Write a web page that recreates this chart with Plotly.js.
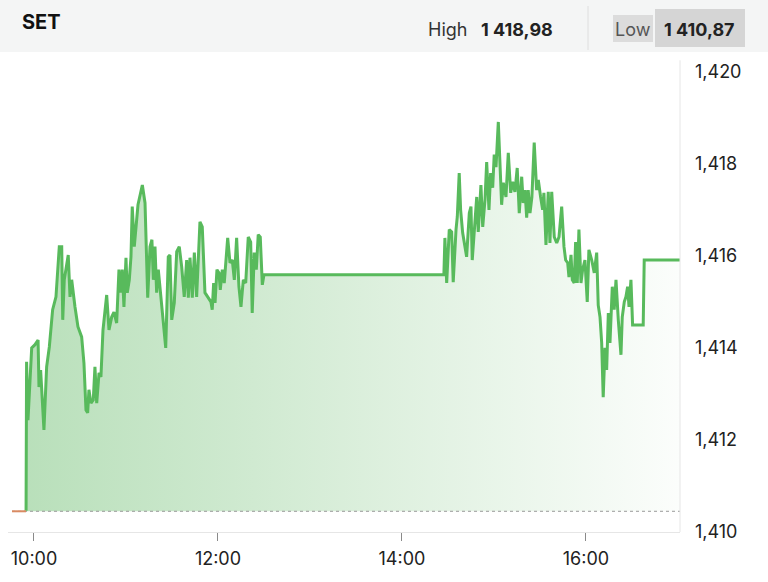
<!DOCTYPE html>
<html>
<head>
<meta charset="utf-8">
<script src="https://cdn.plot.ly/plotly-3.0.1.min.js"></script>
<style>
  html, body { margin: 0; padding: 0; background: #ffffff; }
  #chart { width: 768px; height: 582px; }
</style>
</head>
<body>
<div id="chart"></div>
<script>
// ---------------- data ----------------
const indexName = "SET";
const highLabel = "High";
const highValue = "1 418,98";
const lowLabel = "Low";
const lowValue = "1 410,87";

const prevClose = 1410.45;
const preOpenTimes = ["09:45:40", "09:54:50"];
const preOpenValues = [1410.45, 1410.45];

const times = [
  "09:54:50","09:55:10","09:56:05","09:58:30","10:00:40","10:02:40","10:03:15","10:04:20","10:06:30","10:08:15",
  "10:10:00","10:12:10","10:14:20","10:16:30","10:18:05","10:18:45","10:19:45","10:22:20","10:23:30","10:24:35",
  "10:26:45","10:28:40","10:31:05","10:32:35","10:33:55","10:35:00","10:35:50","10:37:10","10:38:40","10:39:45",
  "10:40:55","10:42:25","10:43:40","10:45:00","10:47:25","10:48:55","10:50:40","10:52:10","10:53:55","10:55:25",
  "10:56:35","10:57:35","10:58:40","11:00:00","11:00:50","11:02:10","11:03:15","11:04:05","11:05:25","11:06:30",
  "11:07:50","11:10:40","11:12:25","11:14:10","11:15:40","11:16:55","11:17:50","11:18:55","11:20:00","11:21:05",
  "11:22:50","11:24:20","11:25:55","11:27:35","11:28:40","11:29:50","11:31:30","11:33:05","11:34:45","11:36:20",
  "11:38:00","11:39:35","11:40:40","11:41:45","11:43:15","11:44:35","11:46:05","11:48:15","11:49:45","11:51:30",
  "11:53:15","11:55:25","11:56:15","11:57:10","11:58:05","11:59:20","12:00:40","12:01:30","12:02:50","12:04:05",
  "12:06:20","12:07:50","12:09:20","12:10:40","12:12:10","12:13:40","12:15:00","12:16:30","12:18:05","12:19:45",
  "12:21:20","12:22:20","12:23:40","12:25:00","12:26:15","12:27:35","12:28:55","12:29:30","12:30:00",
  "14:27:20","14:28:00","14:29:10","14:30:50","14:32:25","14:33:25","14:35:15","14:36:05","14:37:20","14:38:15",
  "14:39:35","14:41:05","14:42:10","14:43:55","14:45:00","14:45:50","14:47:35","14:48:45","14:49:45","14:51:30",
  "14:52:40","14:54:10","14:55:15","14:56:45","14:57:50","14:59:10","15:00:10","15:01:20","15:02:50","15:03:55",
  "15:05:00","15:06:05","15:07:50","15:09:20","15:10:55","15:12:10","15:13:40","15:15:10","15:16:30","15:18:05",
  "15:19:05","15:20:15","15:21:20","15:22:20","15:23:30","15:24:45","15:26:15","15:27:50","15:28:55","15:30:25",
  "15:31:45","15:32:35","15:33:55","15:35:25","15:36:30","15:37:40","15:39:20","15:40:55","15:42:25","15:44:10",
  "15:45:40","15:46:45","15:48:05","15:48:55","15:50:15","15:51:05","15:52:20","15:53:15","15:54:20","15:55:25",
  "15:56:45","15:57:50","15:59:20","16:00:50","16:01:55","16:03:45","16:05:25","16:07:00","16:08:00","16:09:10",
  "16:10:15","16:11:15","16:12:25","16:13:30","16:14:35","16:15:40","16:17:10","16:18:25","16:19:35","16:21:05",
  "16:22:50","16:23:40","16:25:00","16:26:05","16:27:10","16:28:05","16:29:20","16:30:25","16:37:20","16:38:00",
  "17:01:20"
];

const values = [
  1410.46,1413.70,1412.43,1414.00,1414.07,1414.17,1413.15,1413.52,1412.22,1413.59,
  1414.02,1414.83,1415.11,1416.20,1416.20,1414.61,1415.48,1416.02,1415.11,1415.48,
  1414.89,1414.46,1414.24,1413.67,1412.65,1412.59,1413.09,1412.80,1412.87,1413.59,
  1412.80,1413.46,1413.37,1414.39,1415.15,1414.39,1414.67,1414.78,1414.54,1415.70,
  1415.20,1415.70,1414.89,1415.96,1415.20,1415.48,1415.98,1417.07,1416.20,1416.63,
  1417.11,1417.54,1417.15,1415.09,1416.20,1416.35,1415.48,1416.20,1415.20,1415.70,
  1415.11,1414.46,1414.00,1415.98,1416.02,1414.61,1414.98,1416.09,1416.20,1415.76,
  1415.11,1415.91,1415.09,1415.96,1415.09,1416.07,1415.11,1416.74,1416.63,1415.20,
  1415.11,1415.00,1414.83,1415.41,1414.98,1415.70,1415.63,1415.26,1415.70,1415.41,
  1416.39,1415.85,1415.91,1415.48,1416.39,1415.33,1414.89,1415.48,1415.41,1416.41,
  1416.30,1414.76,1416.07,1415.70,1416.46,1416.41,1415.37,1415.48,1415.59,
  1415.59,1416.39,1415.41,1416.57,1416.52,1415.43,1416.57,1416.85,1417.80,1417.00,
  1416.50,1416.13,1415.98,1416.93,1417.07,1415.91,1416.72,1417.28,1416.52,1417.54,
  1416.63,1417.22,1418.04,1417.00,1417.80,1417.48,1418.20,1417.93,1418.91,1418.09,
  1417.11,1417.59,1417.28,1418.24,1417.37,1417.61,1417.39,1417.91,1416.93,1417.72,
  1417.15,1417.43,1416.83,1417.43,1416.93,1417.28,1418.46,1417.43,1417.65,1417.28,
  1417.00,1417.37,1416.24,1417.39,1416.28,1417.39,1416.41,1416.28,1416.41,1417.07,
  1416.20,1415.91,1415.85,1415.54,1416.02,1415.48,1415.41,1416.30,1415.41,1416.57,
  1415.41,1415.70,1415.91,1415.00,1416.13,1415.91,1415.63,1416.07,1414.93,1414.67,
  1414.11,1412.93,1414.00,1413.52,1414.76,1414.11,1415.33,1414.83,1415.48,1414.61,
  1413.85,1414.67,1415.00,1415.11,1415.33,1414.89,1415.48,1414.50,1414.50,1415.91,
  1415.91
];

const xTickTimes = ["10:00:00", "12:00:00", "14:00:00", "16:00:00"];
const xTickLabels = ["10:00", "12:00", "14:00", "16:00"];
const yTickValues = [1410, 1412, 1414, 1416, 1418, 1420];
const xRangeTimes = ["09:43:03", "17:01:20"];
const yRange = [1410, 1420.43];

// ---------------- helpers ----------------
const day = "2024-01-05 ";
const toDate = t => day + t;

const W = 768, H = 582;
const M = { l: 8, r: 88, t: 52, b: 50 };
const PW = W - M.l - M.r, PH = H - M.t - M.b;
const px = v => (v - M.l) / PW;          // pixel x -> paper x
const py = v => (H - M.b - v) / PH;      // pixel y -> paper y

const FONT = "Inter, 'Noto Sans', 'Liberation Sans', sans-serif";
const GREEN = "rgb(88,186,92)";

// ---------------- traces ----------------
const baseline = {
  x: [toDate(preOpenTimes[0]), toDate(xRangeTimes[1])],
  y: [prevClose, prevClose],
  mode: "lines",
  line: { color: "#9a9a9a", width: 1, dash: "dot" },
  hoverinfo: "skip"
};

const main = {
  x: times.map(toDate),
  y: values,
  mode: "lines",
  line: { color: GREEN, width: 3, shape: "linear" },
  fill: "tonexty",
  fillgradient: {
    type: "horizontal",
    colorscale: [[0, "rgba(76,175,80,0.40)"], [1, "rgba(76,175,80,0.02)"]]
  },
  hoverinfo: "skip"
};

const preOpen = {
  x: preOpenTimes.map(toDate),
  y: preOpenValues,
  mode: "lines",
  line: { color: "#d98a62", width: 2 },
  hoverinfo: "skip"
};

// ---------------- layout ----------------
const shapes = [
  { type: "rect", xref: "paper", yref: "paper", x0: px(0), x1: px(768), y0: py(52), y1: py(0),
    fillcolor: "#f4f5f5", line: { width: 0 }, layer: "below" },
  { type: "line", xref: "paper", yref: "paper", x0: px(588), x1: px(588), y0: py(50), y1: py(6),
    line: { color: "#dedede", width: 1 } },
  { type: "rect", xref: "paper", yref: "paper", x0: px(613), x1: px(653), y0: py(42), y1: py(15),
    fillcolor: "#dcdcdc", line: { width: 0 } },
  { type: "rect", xref: "paper", yref: "paper", x0: px(655), x1: px(745), y0: py(47), y1: py(9),
    fillcolor: "#d5d5d5", line: { width: 0 } },
  { type: "line", xref: "paper", yref: "y", x0: 1, x1: 1, y0: 1410, y1: 1420.25,
    line: { color: "#e6e6e6", width: 1 } }
];

const annotations = [
  { text: "<b>" + indexName + "</b>", xref: "paper", yref: "paper", x: px(20), y: py(22),
    xanchor: "left", yanchor: "middle", showarrow: false,
    font: { family: FONT, size: 20, color: "#111" } },
  { text: highLabel, xref: "paper", yref: "paper", x: px(426), y: py(29),
    xanchor: "left", yanchor: "middle", showarrow: false,
    font: { family: FONT, size: 18, color: "#333" } },
  { text: "<b>" + highValue + "</b>", xref: "paper", yref: "paper", x: px(479), y: py(29),
    xanchor: "left", yanchor: "middle", showarrow: false,
    font: { family: FONT, size: 18, color: "#222" } },
  { text: lowLabel, xref: "paper", yref: "paper", x: px(633), y: py(29),
    xanchor: "center", yanchor: "middle", showarrow: false,
    font: { family: FONT, size: 18, color: "#555" } },
  { text: "<b>" + lowValue + "</b>", xref: "paper", yref: "paper", x: px(700), y: py(29),
    xanchor: "center", yanchor: "middle", showarrow: false,
    font: { family: FONT, size: 18, color: "#222" } }
];

const layout = {
  width: W, height: H,
  margin: M,
  paper_bgcolor: "#ffffff",
  plot_bgcolor: "#ffffff",
  showlegend: false,
  hovermode: false,
  font: { family: FONT, size: 18, color: "#222" },
  xaxis: {
    type: "date",
    range: xRangeTimes.map(toDate),
    tickmode: "array",
    tickvals: xTickTimes.map(toDate),
    ticktext: xTickLabels,
    showgrid: false,
    zeroline: false,
    showline: true,
    linecolor: "#e6e6e6",
    linewidth: 1,
    ticks: "outside",
    ticklen: 8,
    tickwidth: 1,
    tickcolor: "#8a8a8a",
    ticklabelstandoff: 2,
    tickfont: { family: FONT, size: 18, color: "#222" },
    fixedrange: true
  },
  yaxis: {
    side: "right",
    range: yRange,
    tickmode: "array",
    tickvals: yTickValues,
    tickformat: ",d",
    showgrid: false,
    zeroline: false,
    showline: false,
    ticks: "",
    ticklabelstandoff: 14,
    tickfont: { family: FONT, size: 18, color: "#222" },
    fixedrange: true
  },
  shapes: shapes,
  annotations: annotations
};

Plotly.newPlot("chart", [baseline, main, preOpen], layout, { staticPlot: true, displayModeBar: false });
</script>
</body>
</html>
